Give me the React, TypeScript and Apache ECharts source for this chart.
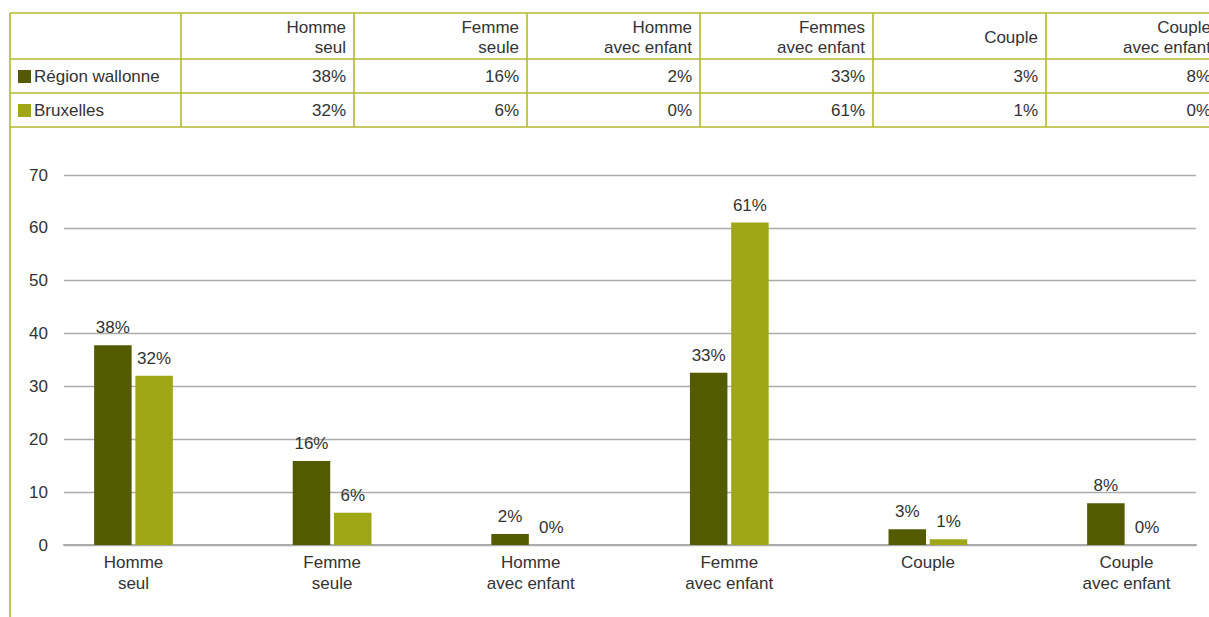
import React, { useEffect, useRef } from "react";
import * as echarts from "echarts";

const categories = ["Homme\nseul", "Femme\nseule", "Homme\navec enfant", "Femme\navec enfant", "Couple", "Couple\navec enfant"];
const tableHeaders = ["Homme\nseul", "Femme\nseule", "Homme\navec enfant", "Femmes\navec enfant", "Couple", "Couple\navec enfant"];
const seriesNames = ["Région wallonne", "Bruxelles"];
const wallonne = [37.8, 15.9, 2.1, 32.6, 3.0, 7.9];
const bruxelles = [32, 6.1, 0, 61, 1.1, 0];
const yTicks = [0, 10, 20, 30, 40, 50, 60, 70];

const DARK = "#545a00";
const LIGHT = "#a0a717";
const BORDER = "#b2ba2c";
const TEXT = "#333333";
const FONT = "Liberation Sans, Arial, sans-serif";

const pct = (v: number) => Math.round(v) + "%";

export default function App() {
  const ref = useRef<HTMLDivElement>(null);
  useEffect(() => {
    if (!ref.current) return;
    const chart = echarts.init(ref.current, null, { renderer: "svg" });

    // table geometry
    const colX = [10, 181, 354, 527, 700, 873, 1046, 1219];
    const rowY = [13, 59, 93, 127];
    const graphics: any[] = [];
    rowY.forEach((y) =>
      graphics.push({ type: "line", shape: { x1: 10, y1: y, x2: 1219, y2: y }, style: { stroke: BORDER, lineWidth: 1.6 } })
    );
    colX.forEach((x, i) =>
      graphics.push({
        type: "line",
        shape: { x1: x, y1: 13, x2: x, y2: i === 0 ? 617 : 127 },
        style: { stroke: BORDER, lineWidth: 1.6 },
      })
    );
    tableHeaders.forEach((h, i) =>
      graphics.push({
        type: "text",
        style: {
          text: h, x: colX[i + 2] - 8, y: (rowY[0] + rowY[1]) / 2 + 1,
          align: "right", verticalAlign: "middle", lineHeight: 20,
          font: `17px ${FONT}`, fill: TEXT,
        },
      })
    );
    const rows = [wallonne, bruxelles];
    const colors = [DARK, LIGHT];
    rows.forEach((vals, r) => {
      const cy = (rowY[r + 1] + rowY[r + 2]) / 2 + 0.5;
      graphics.push({ type: "rect", shape: { x: 18, y: cy - 6.5, width: 13, height: 13 }, style: { fill: colors[r] } });
      graphics.push({
        type: "text",
        style: { text: seriesNames[r], x: 34, y: cy, align: "left", verticalAlign: "middle", font: `17px ${FONT}`, fill: TEXT },
      });
      vals.forEach((v, i) =>
        graphics.push({
          type: "text",
          style: { text: pct(v), x: colX[i + 2] - 8, y: cy, align: "right", verticalAlign: "middle", font: `17px ${FONT}`, fill: TEXT },
        })
      );
    });

    const labelCfg = {
      show: true, position: "top", distance: 9, fontSize: 17, fontFamily: FONT, color: TEXT,
      formatter: (p: any) => pct(p.value),
    };

    chart.setOption({
      animation: false,
      backgroundColor: "#ffffff",
      textStyle: { fontFamily: FONT },
      grid: [
        { left: 34.2, width: 1191.6, top: 175, height: 370 },
        { left: 64, width: 1132, top: 175, height: 370 },
      ],
      xAxis: [
        {
          type: "category", gridIndex: 0, data: categories,
          axisLine: { show: false }, axisTick: { show: false },
          axisLabel: { fontSize: 17, lineHeight: 21, color: TEXT, margin: 7, interval: 0, fontFamily: FONT },
        },
        {
          type: "value", gridIndex: 1, min: 0, max: 1,
          axisLine: { show: true, lineStyle: { color: "#ababab", width: 2 } },
          axisTick: { show: false }, axisLabel: { show: false }, splitLine: { show: false },
        },
      ],
      yAxis: [
        { type: "value", gridIndex: 0, min: 0, max: 70, interval: 10, show: false },
        {
          type: "value", gridIndex: 1, min: yTicks[0], max: yTicks[yTicks.length - 1], interval: 10,
          axisLine: { show: false }, axisTick: { show: false },
          axisLabel: { fontSize: 17, color: TEXT, margin: 16, fontFamily: FONT },
          splitLine: { lineStyle: { color: "#ababab", width: 1.3 } },
        },
      ],
      series: [
        {
          name: seriesNames[0], type: "bar", xAxisIndex: 0, yAxisIndex: 0, data: wallonne,
          barWidth: 37.5, barGap: "10%", itemStyle: { color: DARK }, label: labelCfg,
        },
        {
          name: seriesNames[1], type: "bar", xAxisIndex: 0, yAxisIndex: 0, data: bruxelles,
          barWidth: 37.5, barGap: "10%", itemStyle: { color: LIGHT }, label: labelCfg,
        },
      ],
      graphic: graphics,
    });
    return () => chart.dispose();
  }, []);
  return <div ref={ref} style={{ position: "fixed", left: 0, top: 0, width: 1240, height: 617 }} />;
}
